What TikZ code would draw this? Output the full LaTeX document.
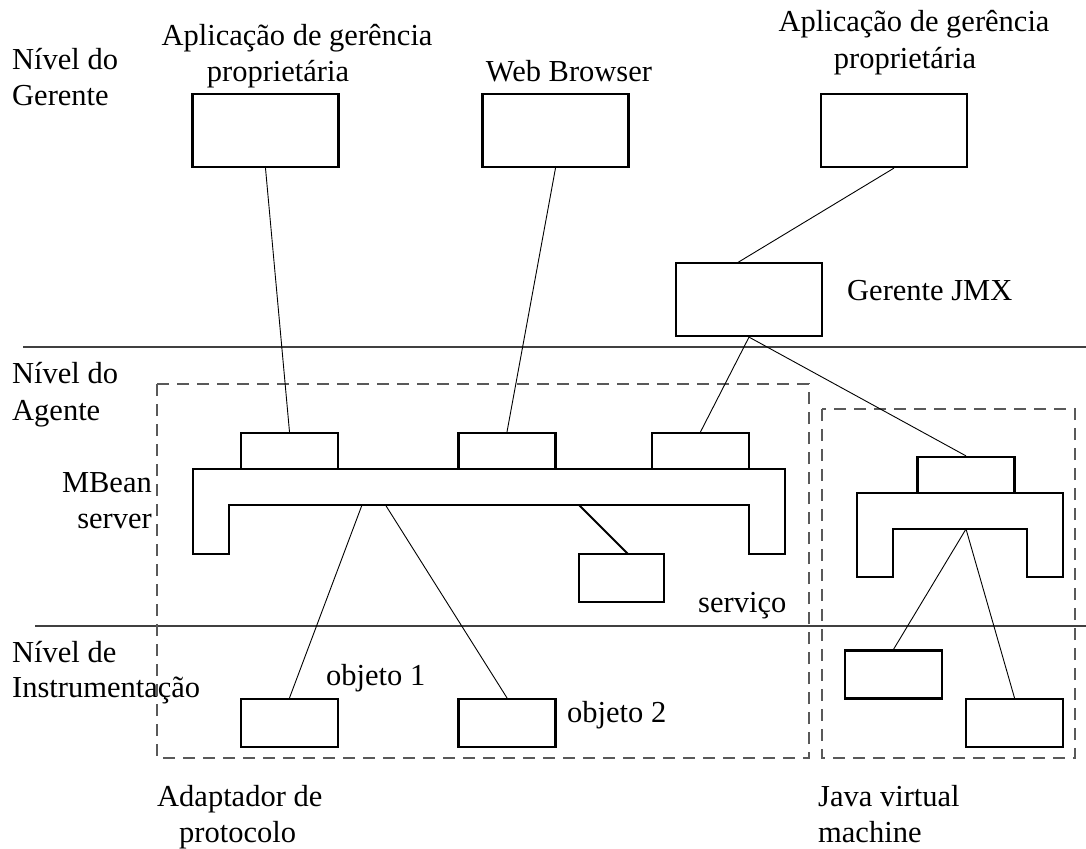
\documentclass[tikz,border=0pt]{standalone}
\usepackage{fontspec}
\setmainfont{Liberation Serif}
\begin{document}
\begin{tikzpicture}[x=1pt,y=-1pt,
  lbl/.style={inner sep=0pt, font=\fontsize{30.5}{36}\selectfont},
  box/.style={draw, line width=2.2pt, inner sep=0pt},
  bigbox/.style={box, minimum width=146pt, minimum height=73pt},
  smallbox/.style={box, minimum width=97pt, minimum height=36pt},
  objbox/.style={box, minimum width=97pt, minimum height=48pt},
  bus/.style={draw, line width=2.2pt, line join=miter},
  conn/.style={draw, line width=0.9pt},
  region/.style={draw=black!65, line width=1.4pt, dash pattern=on 12pt off 8pt},
  level/.style={draw=black!75, line width=1.1pt}]
\useasboundingbox (0,0) rectangle (1086,848);

% level separators
\draw[level] (23,347) -- (1086,347);
\draw[level] (35,626) -- (1086,626);

% dashed regions
\draw[region] (157,384) rectangle (809,758);
\draw[region] (822,409) rectangle (1075,758);

% level labels
\node[lbl, anchor=base west] (ng1) at (12,70) {Nível do};
\node[lbl, anchor=base west] (ng2) at (12,106) {Gerente};
\node[lbl, anchor=base west] (na1) at (12,383) {Nível do};
\node[lbl, anchor=base west] (na2) at (12,420) {Agente};
\node[lbl, anchor=base west] (ni1) at (12,662) {Nível de};
\node[lbl, anchor=base west] (ni2) at (12,697) {Instrumentação};

% manager level
\node[lbl, anchor=base] (t1a) at (297,46) {Aplicação de gerência};
\node[lbl, anchor=base] (t1b) at (278,82) {proprietária};
\node[lbl, anchor=base] (t2) at (569,82) {Web Browser};
\node[lbl, anchor=base] (t3a) at (914,32) {Aplicação de gerência};
\node[lbl, anchor=base] (t3b) at (905,69) {proprietária};

\node[bigbox] (tb1) at (265.5,130.5) {};
\node[bigbox] (tb2) at (555.5,130.5) {};
\node[bigbox] (tb3) at (894,130.5) {};
\node[bigbox] (jmx) at (749,299.5) {};
\node[lbl, anchor=base west] (jmxl) at (847,300) {Gerente JMX};

% MBean server (agent level)
\node[lbl, anchor=base east] (mb1) at (152,492) {MBean};
\node[lbl, anchor=base east] (mb2) at (152,528) {server};
\draw[bus] (193,469) -- (785,469) -- (785,554) -- (749,554) -- (749,505)
  -- (229,505) -- (229,554) -- (193,554) -- cycle;
\node[smallbox] (pa) at (289.5,451) {};
\node[smallbox] (pb) at (507,451) {};
\node[smallbox] (pc) at (700.5,451) {};
\node[box, minimum width=85pt, minimum height=48pt] (svc) at (621.5,578) {};
\node[lbl, anchor=base west] (svcl) at (698,612) {serviço};

\coordinate (bo1) at (362,505);
\coordinate (bo2) at (385.5,505);
\coordinate (bs) at (579,505);
\coordinate (svctop) at (628,554);
\draw[line width=2pt] (bs) -- (svctop);

% JVM
\draw[bus] (857,493) -- (1063,493) -- (1063,577) -- (1027,577) -- (1027,529)
  -- (893,529) -- (893,577) -- (857,577) -- cycle;
\node[smallbox] (jp) at (966,475) {};
\coordinate (japex) at (966,529);
\node[objbox] (jb1) at (893.5,674.5) {};
\node[objbox] (jb2) at (1014.5,723) {};

% objects
\node[objbox] (o1) at (289.5,723) {};
\node[objbox] (o2) at (507,723) {};
\node[lbl, anchor=base west] (o1l) at (326,685) {objeto 1};
\node[lbl, anchor=base west] (o2l) at (567,722) {objeto 2};

% bottom labels
\node[lbl, anchor=base west] (ad1) at (157,806) {Adaptador de};
\node[lbl, anchor=base west] (ad2) at (179,842) {protocolo};
\node[lbl, anchor=base west] (jv1) at (818,806) {Java virtual};
\node[lbl, anchor=base west] (jv2) at (818,842) {machine};

% connectors
\coordinate (jmxtop) at (737,263);
\draw[conn] (tb1.south) -- (pa.north);
\draw[conn] (tb2.south) -- (pb.north);
\draw[conn] (tb3.south) -- (jmxtop);
\draw[conn] (jmx.south) -- (pc.north);
\draw[conn] (jmx.south) -- (jp.north);
\draw[conn] (bo1) -- (o1.north);
\draw[conn] (bo2) -- (o2.north);
\draw[conn] (japex) -- (jb1.north);
\draw[conn] (japex) -- (jb2.north);
\end{tikzpicture}
\end{document}
